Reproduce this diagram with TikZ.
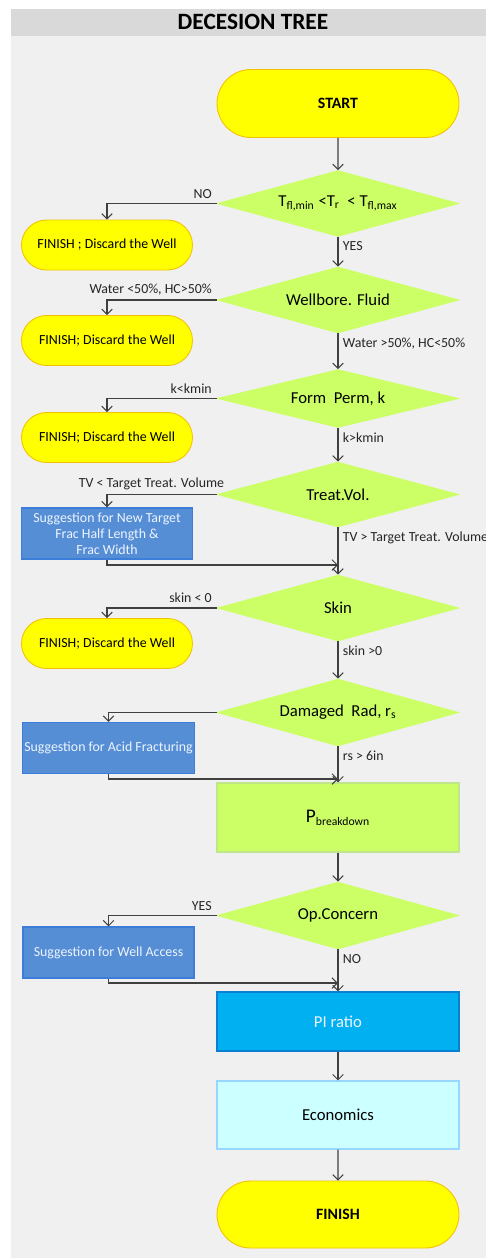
\documentclass[tikz,border=0pt]{standalone}
\usepackage{fontspec}
\setmainfont{Carlito}
\usetikzlibrary{shapes.geometric,shapes.misc,arrows.meta,positioning}

\definecolor{panel}{HTML}{F0F0F0}
\definecolor{titlebar}{HTML}{D9D9D9}
\definecolor{termfill}{HTML}{FFFF00}
\definecolor{termline}{HTML}{F2C200}
\definecolor{testfill}{HTML}{CCFF66}
\definecolor{testline}{HTML}{BFE68A}
\definecolor{hintfill}{HTML}{558ED5}
\definecolor{hintline}{HTML}{3B7DD8}
\definecolor{hinttext}{HTML}{EEF4FF}
\definecolor{pifill}{HTML}{00B0F0}
\definecolor{piline}{HTML}{0A80D0}
\definecolor{ecofill}{HTML}{CCFFFF}
\definecolor{ecoline}{HTML}{99D6FF}
\definecolor{flowline}{HTML}{404040}

\begin{document}
\begin{tikzpicture}[x=0.02cm,y=-0.02cm,>={Straight Barb[length=3pt,width=6pt]},
  term/.style={rounded rectangle,draw=termline,fill=termfill,line width=0.5pt,inner sep=0pt},
  test/.style={diamond,draw=testfill,fill=testfill,inner sep=0pt,aspect=3.6,
    minimum width=4.84cm,minimum height=1.32cm,font=\fontsize{9.5}{11}\selectfont},
  hint/.style={rectangle,draw=hintline,fill=hintfill,text=hinttext,line width=0.6pt,
    minimum width=3.42cm,minimum height=1.02cm,align=center,inner sep=1pt,
    font=\fontsize{7.9}{9}\selectfont},
  calc/.style={rectangle,line width=0.6pt,minimum width=4.84cm,font=\fontsize{9.5}{11}\selectfont},
  flow/.style={draw=flowline,line width=0.6pt},
  lab/.style={font=\fontsize{7.9}{8.5}\selectfont,inner sep=2.5pt,text=black!85}]
 \useasboundingbox (0,0) rectangle (486,1258);
 % panel and title
 \fill[panel] (11,36) rectangle (486,1258);
 \fill[titlebar] (11,9) rectangle (486,36);
 \node[font=\fontsize{13.3}{15}\selectfont\bfseries] (title) at (253,22) {DECESION TREE};

 % main column
 \node[term,minimum width=4.84cm,minimum height=1.36cm,font=\fontsize{9}{10}\selectfont\bfseries] (start) at (338,103.5) {START};
 \node[test] (temp) at (338,203.5) {T\textsubscript{fl,min} <T\textsubscript{r}\ \ < T\textsubscript{fl,max}};
 \node[test] (fluid) at (338,300) {Wellbore. Fluid};
 \node[test,minimum height=1.16cm] (perm) at (338,398.5) {Form\ \ Perm,\ k};
 \node[test,minimum height=1.30cm] (treat) at (338,494.5) {Treat.Vol.};
 \node[test] (skin) at (338,608) {Skin};
 \node[test,minimum height=1.34cm] (rad) at (338,712.5) {Damaged\ \ Rad, r\textsubscript{s}};
 \node[calc,draw=testline,fill=testfill,minimum height=1.38cm] (pbreak) at (338,817.5)
   {{\fontsize{11}{12}\selectfont P}\textsubscript{breakdown}};
 \node[test,minimum height=1.34cm] (opc) at (338,915.5) {Op.Concern};
 \node[calc,draw=piline,fill=pifill,text=hinttext,minimum height=1.18cm] (pi) at (338,1021.5) {PI ratio};
 \node[calc,draw=ecoline,fill=ecofill,minimum height=1.36cm] (eco) at (338,1115) {Economics};
 \node[term,minimum width=4.84cm,minimum height=1.34cm,font=\fontsize{9}{10}\selectfont\bfseries] (finish) at (338,1214.5) {FINISH};

 % side column
 \foreach \nm/\yy/\txt in {quitA/245/{FINISH ; Discard the Well},quitB/340.5/{FINISH; Discard the Well},
   quitC/437.5/{FINISH; Discard the Well},quitD/643.5/{FINISH; Discard the Well}}{
  \node[term,minimum width=3.42cm,minimum height=1.0cm,font=\fontsize{7.9}{8.5}\selectfont] (\nm) at (107,\yy) {\txt};
 }
 \node[hint] (newfrac) at (107,533.5) {Suggestion for New Target\\Frac Half Length \&\\Frac Width};
 \node[hint] (acid) at (108.5,748) {Suggestion for Acid Fracturing};
 \node[hint] (access) at (108.5,952.5) {Suggestion for Well Access};
 \coordinate (joinA) at (338,565);
 \coordinate (joinB) at (338,779);
 \coordinate (joinC) at (338,983);

 % connectors down
 \draw[flow,->] (start) -- (temp);
 \draw[flow,->] (temp.south) -- node[lab,pos=0,below right] {YES} (fluid.north);
 \draw[flow,->] (fluid.south) -- node[lab,pos=0,below right] {Water >50\%, HC<50\%} (perm.north);
 \draw[flow,->] (perm.south) -- node[lab,pos=0,below right] {k>kmin} (treat.north);
 \draw[flow,->] (treat.south) -- node[lab,pos=0,below right] {TV > Target Treat. Volume} (skin.north);
 \draw[flow,->] (skin.south) -- node[lab,pos=0,below right] {skin >0} (rad.north);
 \draw[flow,->] (rad.south) -- node[lab,pos=0,below right] {rs > 6in} (pbreak.north);
 \draw[flow,->] (pbreak) -- (opc);
 \draw[flow,->] (opc.south) -- node[lab,pos=0,below right] {NO} (pi.north);
 \draw[flow,->] (pi) -- (eco);
 \draw[flow,->] (eco) -- (finish);

 % connectors to the side
 \draw[flow,->] (temp.west) -| node[lab,pos=0,above left] {NO} (quitA.north);
 \draw[flow,->] (fluid.west) -| node[lab,pos=0,above left] {Water <50\%, HC>50\%} (quitB.north);
 \draw[flow,->] (perm.west) -| node[lab,pos=0,above left] {k<kmin} (quitC.north);
 \draw[flow,->] (treat.west) -| node[lab,pos=0,above left,xshift=7] {TV < Target Treat. Volume} (newfrac.north);
 \draw[flow,->] (skin.west) -| node[lab,pos=0,above left] {skin < 0} (quitD.north);
 \draw[flow,->] (rad.west) -| (acid.north);
 \draw[flow,->] (opc.west) -| node[lab,pos=0,above left] {YES} (access.north);

 % back to the main column
 \draw[flow,->] (newfrac.south) |- (joinA);
 \draw[flow,->] (acid.south) |- (joinB);
 \draw[flow,->] (access.south) |- (joinC);
\end{tikzpicture}
\end{document}
